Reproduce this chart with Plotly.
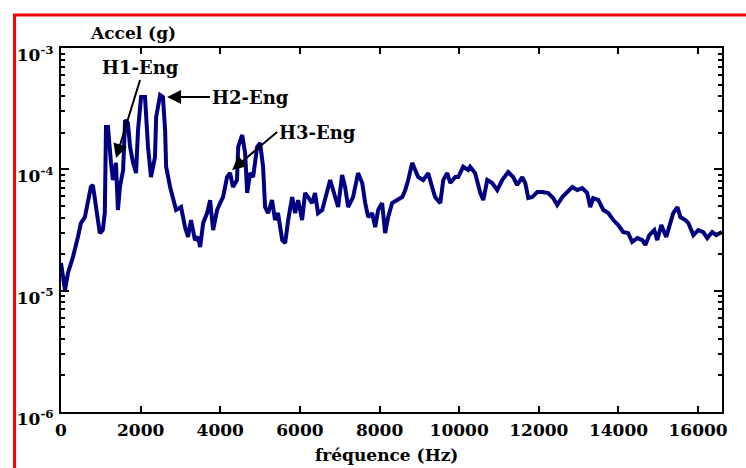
import math
import plotly.graph_objects as go

# Acceleration spectrum, frequency in Hz and acceleration in g
freq_hz = [
    0, 100, 175, 300, 425, 500, 600, 675, 750, 800, 875, 975, 1050, 1100, 1130,
    1180, 1255, 1305, 1380, 1430, 1480, 1560, 1610, 1680, 1735, 1810, 1885, 1935,
    2010, 2110, 2185, 2260, 2360, 2390, 2490, 2560, 2615, 2640, 2740, 2815, 2890,
    3015, 3115, 3190, 3265, 3365,
    3440, 3495, 3570, 3670, 3745, 3820, 3920, 3995, 4070, 4170, 4245, 4320, 4420,
    4450, 4550, 4625, 4675, 4750, 4825, 4925, 5000, 5075, 5125, 5200, 5300, 5375,
    5450, 5555, 5630, 5705, 5805, 5880, 5955, 6055, 6130, 6205, 6305, 6380, 6455,
    6560, 6685, 6760,
    6885, 6960, 7060, 7135, 7210, 7335, 7460, 7565, 7640, 7715, 7815, 7890, 7965,
    8065, 8140, 8215, 8315, 8440, 8570, 8645, 8720, 8820, 8895, 8970, 9095, 9220,
    9320, 9395, 9525, 9600, 9700, 9775, 9900, 9975, 10100,
    10225, 10275, 10400, 10530, 10605, 10705, 10830, 10955, 11080, 11230, 11355,
    11455, 11585, 11660, 11735, 11835, 11960, 12085, 12235, 12360, 12460, 12590,
    12715, 12840, 12965, 13090, 13215, 13290, 13365, 13495,
    13620, 13745, 13870, 13995, 14120, 14245, 14345, 14475, 14600, 14675, 14775,
    14900, 14975, 15075, 15200, 15300, 15375, 15480, 15555, 15680, 15755, 15880,
    16005, 16130, 16230, 16355, 16455, 16600,
]

accel_g = [
    1.69e-5, 1.01e-5, 1.40e-5, 1.89e-5, 2.77e-5, 3.61e-5, 4.04e-5, 5.58e-5, 7.15e-5,
    7.43e-5, 5.27e-5, 2.98e-5, 3.16e-5, 4.36e-5, 2.23e-4, 2.23e-4, 1.13e-4, 8.16e-5,
    1.13e-4, 4.62e-5, 7.15e-5, 9.87e-5, 2.55e-4, 2.41e-4, 1.53e-4, 1.13e-4, 9.32e-5,
    2.11e-4, 3.94e-4, 3.94e-4, 1.53e-4, 8.64e-5, 1.26e-4, 2.70e-4, 4.10e-4, 3.94e-4,
    2.11e-4, 1.05e-4, 7.15e-5, 5.58e-5, 4.62e-5, 4.89e-5, 3.34e-5, 2.77e-5, 3.82e-5,
    2.61e-5,
    2.77e-5, 2.29e-5, 3.61e-5, 4.36e-5, 5.58e-5, 3.16e-5, 4.62e-5, 5.27e-5, 5.91e-5,
    8.64e-5, 9.32e-5, 7.15e-5, 8.16e-5, 1.53e-4, 1.92e-4, 1.36e-4, 6.38e-5, 9.32e-5,
    8.64e-5, 1.53e-4, 1.65e-4, 1.05e-4, 4.89e-5, 4.36e-5, 5.58e-5, 3.82e-5, 4.36e-5,
    2.61e-5, 2.47e-5, 3.82e-5, 5.91e-5, 4.36e-5, 5.58e-5, 3.82e-5, 6.38e-5, 5.91e-5,
    5.27e-5, 6.38e-5, 4.36e-5, 4.62e-5, 6.75e-5, 8.16e-5,
    5.91e-5, 4.89e-5, 8.97e-5, 7.15e-5, 4.89e-5, 5.91e-5, 9.32e-5, 7.71e-5, 5.27e-5,
    4.04e-5, 4.36e-5, 3.34e-5, 4.62e-5, 5.27e-5, 2.98e-5, 4.04e-5, 5.27e-5, 5.58e-5,
    5.91e-5, 6.75e-5, 8.16e-5, 1.13e-4, 9.87e-5, 8.64e-5, 8.16e-5, 9.32e-5, 7.15e-5,
    5.91e-5, 5.27e-5, 8.16e-5, 9.32e-5, 7.71e-5, 8.64e-5, 8.64e-5, 1.05e-4,
    9.87e-5, 1.05e-4, 9.32e-5, 6.38e-5, 5.58e-5, 8.16e-5, 7.71e-5, 6.75e-5, 8.16e-5,
    9.50e-5, 8.64e-5, 7.43e-5, 8.64e-5, 7.71e-5, 5.80e-5, 5.91e-5, 6.50e-5, 6.50e-5,
    6.38e-5, 5.80e-5, 5.08e-5, 5.91e-5, 6.50e-5, 7.15e-5, 6.75e-5, 7.01e-5, 6.38e-5,
    4.89e-5, 5.80e-5, 5.58e-5,
    4.62e-5, 4.36e-5, 3.82e-5, 3.47e-5, 3.04e-5, 2.98e-5, 2.52e-5, 2.71e-5, 2.61e-5,
    2.38e-5, 2.87e-5, 3.16e-5, 2.61e-5, 3.47e-5, 2.77e-5, 3.61e-5, 4.36e-5, 4.89e-5,
    4.04e-5, 3.82e-5, 3.61e-5, 2.87e-5, 3.16e-5, 3.04e-5, 2.71e-5, 3.04e-5, 2.87e-5,
    3.04e-5,
]

x_ticks = [0, 2000, 4000, 6000, 8000, 10000, 12000, 14000, 16000]
x_tick_text = [str(v) for v in x_ticks]
y_ticks = [1e-6, 1e-5, 1e-4, 1e-3]
y_tick_text = ["10<sup>-6</sup>", "10<sup>-5</sup>", "10<sup>-4</sup>", "10<sup>-3</sup>"]
y_minor = [m * d for d in (1e-6, 1e-5, 1e-4) for m in range(2, 10)]

# Engine harmonics: label, arrow tip (Hz, g), label offset from tip (px), anchors
harmonics = [
    ("H1-Eng", 1382, 1.24e-4, 24, -78, "center", "bottom"),
    ("H2-Eng", 2663, 3.94e-4, 43, 0, "left", "middle"),
    ("H3-Eng", 4297, 9.87e-5, 45, -38, "left", "middle"),
]

FONT = "DejaVu Serif"

fig = go.Figure()
fig.add_trace(go.Scatter(
    x=freq_hz, y=accel_g, mode="lines",
    line=dict(color="#000080", width=4),
    showlegend=False,
))

axis_common = dict(
    showline=True, linecolor="black", linewidth=2, mirror="ticks",
    ticks="inside", tickcolor="black", tickwidth=2, showgrid=False,
    zeroline=False,
    tickfont=dict(family=FONT, size=17, color="black", weight="bold"),
)

fig.update_xaxes(
    range=[0, 16600], tickvals=x_ticks, ticktext=x_tick_text, ticklen=6,
    ticklabelstandoff=2,
    **axis_common,
)
fig.update_yaxes(
    type="log", range=[-6, -3], tickvals=y_ticks, ticktext=y_tick_text,
    ticklen=8, ticklabelshift=7, ticklabelstandoff=2,
    minor=dict(tickvals=y_minor, ticks="inside", ticklen=4, tickwidth=1.5,
               tickcolor="black", showgrid=False),
    **axis_common,
)

annotations = []
for label, fx, fy, ax, ay, xa, ya in harmonics:
    annotations.append(dict(
        x=fx, y=math.log10(fy), xref="x", yref="y", text=label,
        showarrow=True, ax=ax, ay=ay, xanchor=xa, yanchor=ya,
        arrowhead=2, arrowsize=1.4, arrowwidth=2, arrowcolor="black",
        font=dict(family=FONT, size=18, color="black", weight="bold"),
    ))

annotations.append(dict(
    x=0.109, y=1.041, xref="paper", yref="paper", text="Accel (g)",
    showarrow=False, xanchor="center", yanchor="middle",
    font=dict(family=FONT, size=17, color="black", weight="bold"),
))
annotations.append(dict(
    x=0.492, y=-0.118, xref="paper", yref="paper", text="fréquence (Hz)",
    showarrow=False, xanchor="center", yanchor="middle",
    font=dict(family=FONT, size=17, color="black", weight="bold"),
))

# red page frame (left and top edges)
frame = dict(type="line", xref="paper", yref="paper",
             line=dict(color="red", width=3))
shapes = [
    dict(frame, x0=-0.0703, x1=-0.0703, y0=1.0907, y1=-0.2),
    dict(frame, x0=-0.0726, x1=1.1, y0=1.0907, y1=1.0907),
]

fig.update_layout(
    width=746, height=468,
    margin=dict(l=61, r=24, t=48, b=56),
    paper_bgcolor="white", plot_bgcolor="white",
    annotations=annotations, shapes=shapes,
)

fig.write_html("out.html")
